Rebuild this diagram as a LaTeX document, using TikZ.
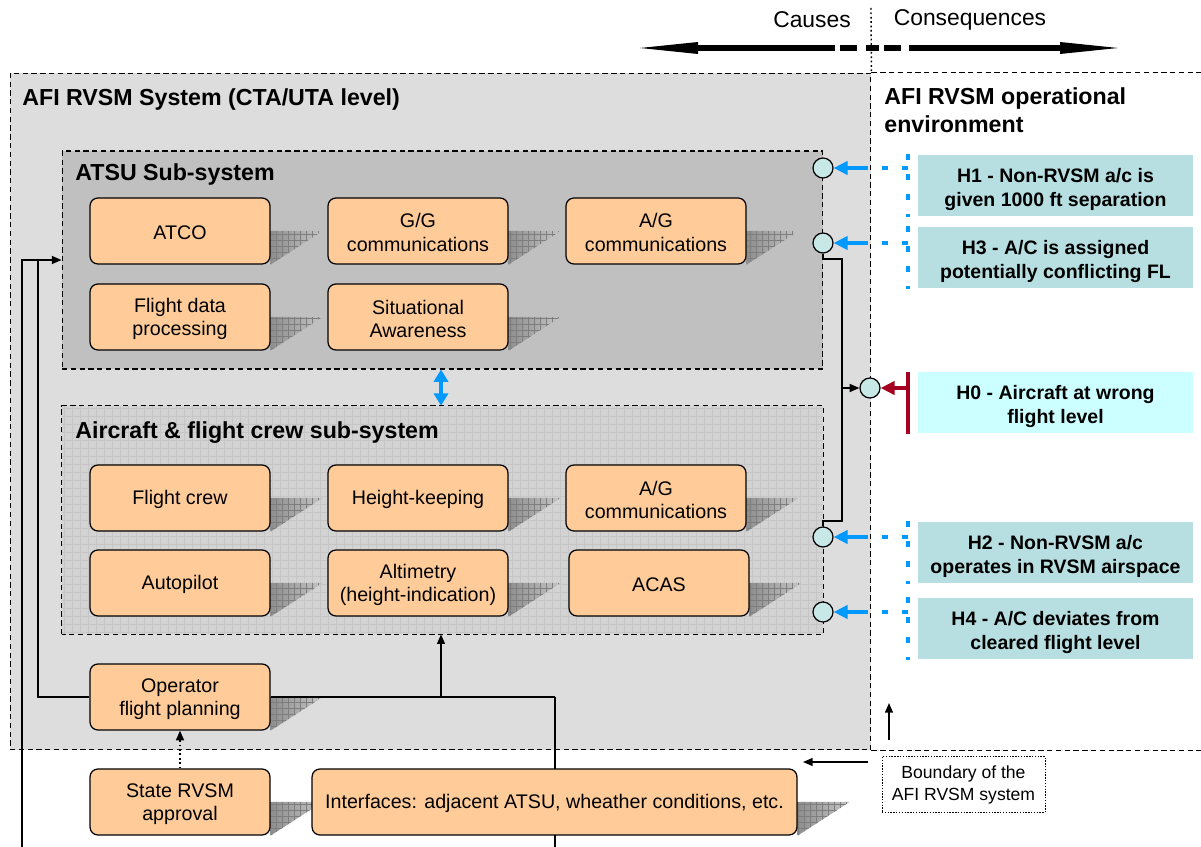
\documentclass[tikz,border=0pt]{standalone}
\usepackage{fontspec}
\setmainfont{Liberation Sans}
\usetikzlibrary{arrows.meta}
\pgfdeclarelayer{bg}
\pgfdeclarelayer{mid}
\pgfsetlayers{bg,mid,main}
\definecolor{sysgray}{HTML}{DDDDDD}
\definecolor{atsugray}{HTML}{C0C0C0}
\definecolor{airgray}{HTML}{D3D3D3}
\definecolor{gridc}{HTML}{C6C6C6}
\definecolor{shadowdark}{HTML}{8E8E8E}
\definecolor{shadowlight}{HTML}{C4C4C4}
\definecolor{shadowgrid}{HTML}{7E7E7E}
\definecolor{orangebox}{HTML}{FFCC99}
\definecolor{hteal}{HTML}{B7DFE1}
\definecolor{hzero}{HTML}{CCFFFF}
\definecolor{portc}{HTML}{C8E8E8}
\definecolor{arrblue}{HTML}{0099FF}
\definecolor{redc}{HTML}{A50021}
\newcommand\mkshadow[1]{%
  \begin{scope}
    \clip (#1.south west) -- (#1.south east) -- ([xshift=1.04cm]#1.east) -- ([xshift=1.04cm]#1.west) -- cycle;
    \shade[left color=shadowdark, right color=shadowlight] (#1.south east) rectangle ([xshift=1.04cm]#1.east);
    \draw[step=0.12cm, shadowgrid, line width=0.2pt] (#1.south east) grid ([xshift=1.04cm]#1.east);
  \end{scope}}
\tikzset{
  comp/.style={draw=black, line width=0.7pt, fill=orangebox, rounded corners=4.5pt,
    minimum width=3.6cm, minimum height=1.32cm, align=center, inner sep=1pt,
    text height=23.9pt, font=\fontsize{11.2}{13.6}\selectfont},
  oneline/.style={text height=9.3pt},
  hbox/.style={fill=hteal, minimum width=5.5cm, minimum height=1.22cm, align=center,
    inner sep=1pt, text height=26.2pt, font=\bfseries\fontsize{11.1}{13.6}\selectfont},
  port/.style={circle, draw=black, line width=0.7pt, fill=portc, minimum size=0.4cm, inner sep=0pt},
  conn/.style={line width=0.9pt},
  blk/.style={conn, -{Triangle[length=5.5pt,width=4.5pt]}},
  bluearr/.style={line width=2.6pt, draw=arrblue, -{Triangle[length=8pt,width=7.5pt]}},
  bluedots/.style={line width=2.6pt, draw=arrblue, dash pattern=on 3.4pt off 8pt},
  frame/.style={line width=0.6pt, dash pattern=on 3pt off 2pt},
  ttl/.style={font=\bfseries\fontsize{13.2}{15.9}\selectfont, anchor=west, inner sep=0pt, align=left},
}
\begin{document}
\begin{tikzpicture}[x=0.02cm, y=-0.02cm]
\useasboundingbox (0,0) rectangle (1201,847);

% ---------- backgrounds ----------
\begin{pgfonlayer}{bg}
  \node[frame, draw, fill=sysgray, minimum width=17.22cm, minimum height=13.54cm, inner sep=0pt] (sys) at (440.5,411.5) {};
  \node[frame, draw, fill=atsugray, minimum width=15.22cm, minimum height=4.36cm, inner sep=0pt] (atsu) at (442.5,260) {};
  \node[fill=airgray, minimum width=15.22cm, minimum height=4.56cm, inner sep=0pt] (air) at (442.5,520) {};
  \draw[step=0.16cm, gridc, line width=0.25pt] (air.south west) grid (air.north east);
  \draw[frame] (air.south west) rectangle (air.north east);
\end{pgfonlayer}

\coordinate (rightedge) at (1201,0);
\coordinate (topdot) at (871,8);
\draw[frame] (sys.north east) -- (sys.north east -| rightedge);
\draw[frame] (sys.south east) -- (sys.south east -| rightedge);
\draw[line width=0.8pt, dash pattern=on 1pt off 1.5pt] (topdot) -- (sys.north east);

% ---------- causes / consequences ----------
\node[font=\fontsize{13}{15}\selectfont] (causes) at (812,20) {Causes};
\node[font=\fontsize{13}{15}\selectfont] (consq) at (970,20) {Consequences};
\fill (640,48) -- (698,42) -- (698,54) -- cycle;
\draw[line width=2.9pt] (697,48) -- (835,48);
\draw[line width=2.9pt] (840,48) -- (857,48) (866,48) -- (879,48) (884,48) -- (901,48);
\draw[line width=2.9pt] (909,48) -- (1061,48);
\fill (1118,48) -- (1060,42) -- (1060,54) -- cycle;

% ---------- titles ----------
\node[ttl] (systitle) at (22,99.5) {AFI RVSM System (CTA/UTA level)};
\node[ttl] (envtitle) at (884,110) {AFI RVSM operational\\environment};
\node[ttl] (atsutitle) at (75,174.5) {ATSU Sub-system};
\node[ttl] (airtitle) at (75,432.5) {Aircraft \& flight crew sub-system};

% ---------- components ----------
\node[comp, oneline] (atco) at (180,231) {ATCO};
\node[comp] (gg) at (418,231) {G/G\\communications};
\node[comp] (ag1) at (656,231) {A/G\\communications};
\node[comp] (fdp) at (180,317) {Flight data\\processing};
\node[comp] (sa) at (418,317) {Situational\\Awareness};
\node[comp, oneline] (fc) at (180,498) {Flight crew};
\node[comp, oneline] (hk) at (418,498) {Height-keeping};
\node[comp] (ag2) at (656,498) {A/G\\communications};
\node[comp, oneline] (ap) at (180,583) {Autopilot};
\node[comp] (alt) at (418,583) {Altimetry\\(height-indication)};
\node[comp, oneline] (acas) at (659,583) {ACAS};
\node[comp] (opfp) at (180,697) {Operator\\flight planning};
\node[comp] (state) at (180,802) {State RVSM\\approval};
\node[comp, oneline, minimum width=9.7cm] (intf) at (554.5,802) {Interfaces: adjacent ATSU, wheather conditions, etc.};

\begin{pgfonlayer}{mid}
  \foreach \n in {atco,gg,ag1,fdp,sa,fc,hk,ag2,ap,alt,acas,opfp,state,intf} {\mkshadow{\n}}
\end{pgfonlayer}

% ---------- hazards ----------
\node[hbox] (h1) at (1055.5,185.5) {H1 - Non-RVSM a/c is\\given 1000 ft separation};
\node[hbox] (h3) at (1055.5,257.5) {H3 - A/C is assigned\\potentially conflicting FL};
\node[hbox, fill=hzero] (h0) at (1055.5,402.5) {H0 - Aircraft at wrong\\flight level};
\node[hbox] (h2) at (1055.5,552.5) {H2 - Non-RVSM a/c\\operates in RVSM airspace};
\node[hbox] (h4) at (1055.5,628.5) {H4 - A/C deviates from\\cleared flight level};

\node[port] (c1) at (823,168) {};
\node[port] (c3) at (823,243) {};
\node[port] (c0) at (870,388) {};
\node[port] (c2) at (823,537) {};
\node[port] (c4) at (823,612) {};

% blue links
\foreach \c/\y/\t/\b in {c1/168/154/217, c3/243/226/289, c2/537/521/584, c4/612/597/660} {
  \coordinate (dt) at (908,\t);
  \coordinate (db) at (908,\b);
  \coordinate (dc) at (908,\y);
  \coordinate (da) at (866,\y);
  \draw[bluedots] (dt) -- (db);
  \draw[bluedots] (dc) -- (da);
  \draw[bluearr] (da) -- (\c.east);
}
% red link
\coordinate (rt) at (908,372);
\coordinate (rb) at (908,434);
\coordinate (rc) at (908,388);
\draw[line width=2.3pt, redc] (rt) -- (rb);
\draw[line width=2.3pt, redc, -{Triangle[length=8pt,width=7.5pt]}] (rc) -- (c0.east);

% right bracket
\coordinate (br1) at (842,259);
\coordinate (br2) at (842,521);
\coordinate (br0) at (842,388);
\draw[conn] (c3.south) |- (br1) -- (br2) -| (c2.north);
\draw[blk] (br0) -- (c0.west);

% blue double arrow between sub-systems
\coordinate (xmid) at (441,0);
\draw[line width=2.3pt, arrblue, {Triangle[length=7pt,width=8pt]}-{Triangle[length=7pt,width=8pt]}] (atsu.south -| xmid) -- (air.north -| xmid);

% left lines
\coordinate (lvl) at (0,260);
\coordinate (botL) at (22,847);
\coordinate (jL) at (38,260);
\draw[blk] (botL) |- (atsu.west |- lvl);
\draw[conn] (opfp.west) -| (jL);

% operator to aircraft / interfaces
\coordinate (jA) at (441,697);
\coordinate (jR) at (555,697);
\coordinate (botR) at (555,847);
\draw[conn] (opfp.east) -- (jR);
\begin{pgfonlayer}{mid}
  \draw[conn] (jR) -- (botR);
\end{pgfonlayer}
\draw[blk] (jA) -- (air.south -| jA);
\draw[conn, dash pattern=on 1pt off 1.5pt, -{Triangle[length=5.5pt,width=4.5pt]}] (state.north) -- (opfp.south);

% boundary note
\node[draw, line width=0.4pt, dash pattern=on 0.8pt off 0.8pt, minimum width=3.26cm, minimum height=1.12cm,
  align=center, inner sep=0pt, font=\fontsize{10}{12.5}\selectfont] (bnd) at (963.5,784.5) {Boundary of the\\AFI RVSM system};
\coordinate (la0) at (868,762);
\coordinate (la1) at (803,762);
\coordinate (ua0) at (889,740);
\coordinate (ua1) at (889,703);
\draw[blk, line width=0.8pt] (la0) -- (la1);
\draw[blk, line width=0.8pt] (ua0) -- (ua1);
\end{tikzpicture}
\end{document}
